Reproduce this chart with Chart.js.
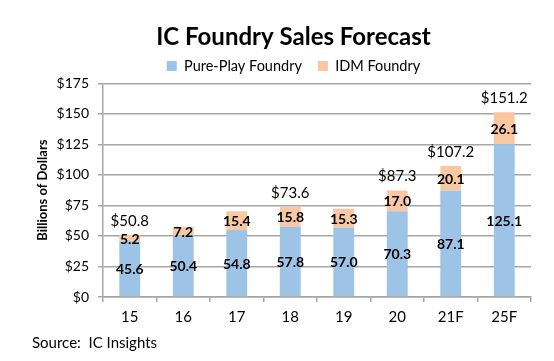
<!DOCTYPE html>
<html>
<head>
<meta charset="utf-8">
<script src="https://cdn.jsdelivr.net/npm/chart.js@4.4.0/dist/chart.umd.min.js"></script>
<style>
    html, body { margin: 0; padding: 0; background: #fff; }
    #wrap { width: 554px; height: 361px; }
</style>
</head>
<body>
<div id="wrap"><canvas id="salesChart" width="554" height="361"></canvas></div>
<script>
const years = ['15', '16', '17', '18', '19', '20', '21F', '25F'];
const purePlay = [45.6, 50.4, 54.8, 57.8, 57.0, 70.3, 87.1, 125.1];
const idm = [5.2, 7.2, 15.4, 15.8, 15.3, 17.0, 20.1, 26.1];
const totalLabels = ['$50.8', '', '', '$73.6', '', '$87.3', '$107.2', '$151.2'];
const yTicks = [0, 25, 50, 75, 100, 125, 150, 175];

const gridColor = '#a6a6a6';
const fontName = 'Lato';

// value labels inside each segment plus the totals above the bars
const barLabels = {
    id: 'barLabels',
    afterDatasetsDraw(chart) {
        const ctx = chart.ctx;
        ctx.save();
        ctx.textAlign = 'center';
        ctx.textBaseline = 'middle';
        ctx.fillStyle = '#000';
        ctx.font = 'bold 14px ' + fontName;
        chart.data.datasets.forEach((ds, di) => {
            const meta = chart.getDatasetMeta(di);
            meta.data.forEach((bar, i) => {
                ctx.fillText(ds.data[i].toFixed(1), bar.x, (bar.y + bar.base) / 2 + 1);
            });
        });
        const top = chart.getDatasetMeta(1);
        ctx.font = '15px ' + fontName;
        top.data.forEach((bar, i) => {
            if (totalLabels[i]) ctx.fillText(totalLabels[i], bar.x, bar.y - 14);
        });
        ctx.restore();
    },
    afterDraw(chart) {
        const ctx = chart.ctx;
        ctx.save();
        ctx.fillStyle = '#000';
        ctx.font = '15px ' + fontName;
        ctx.textAlign = 'left';
        ctx.textBaseline = 'middle';
        ctx.fillText('Source:  IC Insights', 32, 343);
        ctx.restore();
    }
};

new Chart(document.getElementById('salesChart'), {
    type: 'bar',
    data: {
        labels: years,
        datasets: [{
            label: 'Pure-Play Foundry',
            data: purePlay,
            backgroundColor: '#9dc3e6',
            barPercentage: 0.39,
            categoryPercentage: 1
        }, {
            label: 'IDM Foundry',
            data: idm,
            backgroundColor: '#fac8a0',
            barPercentage: 0.39,
            categoryPercentage: 1
        }]
    },
    options: {
        responsive: false,
        animation: false,
        layout: {
            // wider left padding pushes title and legend right, like the original
            padding: { left: 56, right: 23, top: 0, bottom: 30 }
        },
        plugins: {
            title: {
                display: true,
                text: 'IC Foundry Sales Forecast',
                color: '#000',
                font: { family: fontName, size: 24, weight: 'bold' },
                padding: { top: 23, bottom: -9 }
            },
            legend: {
                position: 'top',
                labels: {
                    color: '#000',
                    font: { family: fontName, size: 14.5 },
                    boxWidth: 10,
                    boxHeight: 10,
                    padding: 16
                }
            },
            tooltip: { enabled: false }
        },
        scales: {
            x: {
                stacked: true,
                grid: {
                    offset: true,
                    drawOnChartArea: false,
                    drawTicks: true,
                    tickLength: 5,
                    color: gridColor,
                    lineWidth: 1.5
                },
                border: { color: gridColor, width: 1.5 },
                ticks: {
                    color: '#000',
                    font: { family: fontName, size: 15 },
                    padding: 6
                },
                afterFit(scale) { scale.height = 34; }
            },
            y: {
                stacked: true,
                min: 0,
                max: 175,
                afterBuildTicks(scale) {
                    scale.ticks = yTicks.map(v => ({ value: v }));
                },
                grid: {
                    color: gridColor,
                    lineWidth: 1.5,
                    tickLength: 5
                },
                border: { color: gridColor, width: 1.5 },
                ticks: {
                    color: '#000',
                    font: { family: fontName, size: 14 },
                    padding: 9,
                    callback: v => '$' + v
                },
                title: {
                    display: true,
                    text: 'Billions of Dollars',
                    color: '#000',
                    font: { family: fontName, size: 13, weight: 'bold' },
                    padding: { top: -21, bottom: 0 }
                },
                afterFit(scale) { scale.width = 47; }
            }
        }
    },
    plugins: [barLabels]
});
</script>
</body>
</html>
